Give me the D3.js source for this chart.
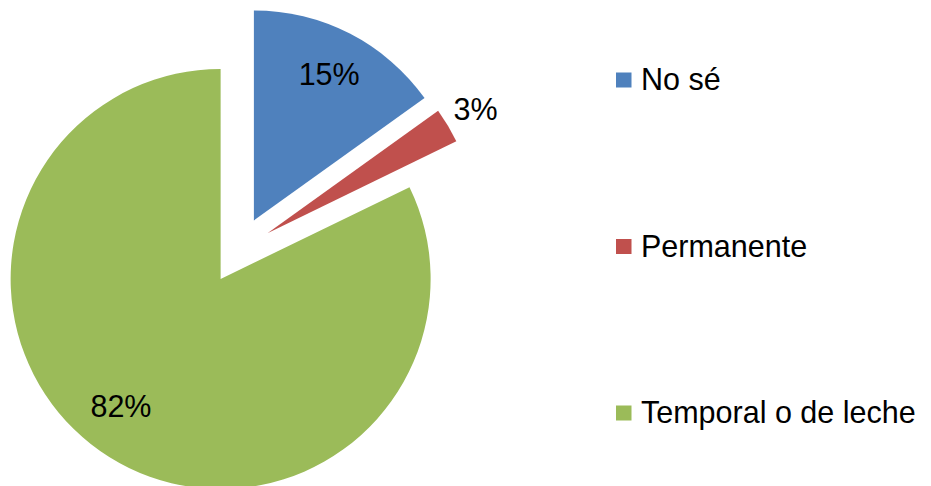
<!DOCTYPE html>
<html>
<head>
<meta charset="utf-8">
<script src="https://cdn.jsdelivr.net/npm/d3@7"></script>
<style>
  html, body { margin: 0; padding: 0; background: #fff; }
  svg { display: block; }
  text { font-family: Arial, "Liberation Sans", sans-serif; fill: #000; }
</style>
</head>
<body>
<svg id="chart" width="931" height="486"></svg>
<script>
// ---- data ----
const categories = ["No sé", "Permanente", "Temporal o de leche"];
const values = [15.1, 2.7, 82.2];
const colors = ["#4F81BD", "#C0504D", "#9BBB59"];

// ---- layout ----
const W = 931, H = 486;
const cx = 238.5, cy = 250.4, R = 210;
const explode = 33.7;
// label placement per slice: radius factor and small angular nudge (radians)
const labelRadius = [0.785, 1.153, 0.77];
const labelNudge = [0, 0, 0.105];
const svg = d3.select("#chart");

const pie = d3.pie().sort(null).value(d => d).startAngle(0).endAngle(2 * Math.PI);
const arcs = pie(values);
const arc = d3.arc().innerRadius(0).outerRadius(R);
const total = d3.sum(values);
const pct = d3.format(".0%");

const g = svg.append("g").attr("transform", `translate(${cx},${cy})`);

const slices = g.selectAll("g.slice").data(arcs).join("g")
  .attr("class", "slice")
  .attr("transform", d => {
    const m = (d.startAngle + d.endAngle) / 2;
    return `translate(${Math.sin(m) * explode},${-Math.cos(m) * explode})`;
  });

slices.append("path")
  .attr("d", arc)
  .attr("fill", (d, i) => colors[i]);

const lab = (d, i) => {
  const m = (d.startAngle + d.endAngle) / 2 + labelNudge[i];
  const r = R * labelRadius[i];
  return [Math.sin(m) * r, -Math.cos(m) * r];
};

slices.append("text")
  .attr("text-anchor", "middle")
  .attr("font-size", 30.5)
  .attr("dy", "0.36em")
  .attr("x", (d, i) => lab(d, i)[0])
  .attr("y", (d, i) => lab(d, i)[1])
  .text(d => pct(d.value / total));

// ---- legend ----
const legendY = d3.scalePoint().domain(categories).range([80, 413]);
const leg = svg.append("g").selectAll("g").data(categories).join("g")
  .attr("transform", d => `translate(616,${legendY(d)})`);
leg.append("rect")
  .attr("x", 0).attr("y", -7.5).attr("width", 15.5).attr("height", 15)
  .attr("fill", (d, i) => colors[i]);
leg.append("text")
  .attr("x", 25).attr("y", 10)
  .attr("font-size", 30.5)
  .text(d => d);
</script>
</body>
</html>
